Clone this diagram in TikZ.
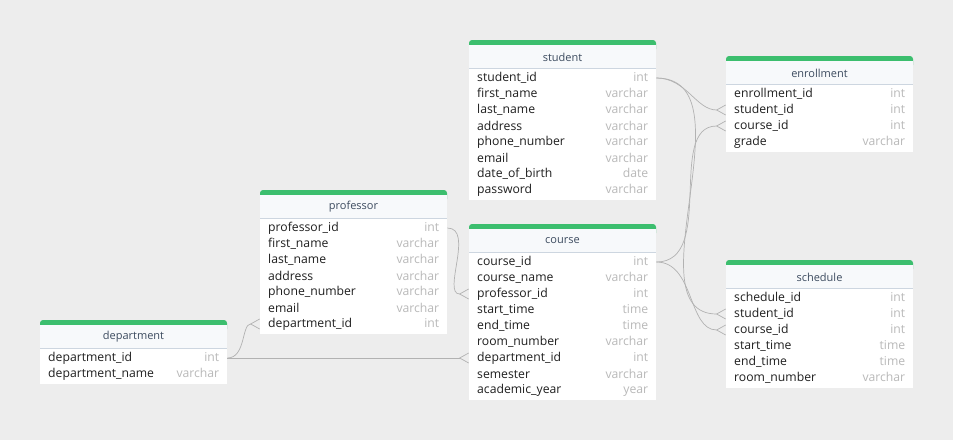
\documentclass[tikz,border=0pt]{standalone}
\usepackage{fontspec}
\setmainfont{Open Sans}
\usepackage{xcolor}
\usepackage{tikz}
\usetikzlibrary{arrows.meta}

\definecolor{bgcol}{RGB}{237,237,237}
\definecolor{barcol}{RGB}{60,190,110}
\definecolor{headcol}{RGB}{247,249,251}
\definecolor{sepcol}{RGB}{205,214,224}
\definecolor{titlecol}{RGB}{60,75,95}
\definecolor{typecol}{RGB}{185,185,185}
\definecolor{relcol}{RGB}{178,178,178}

\begin{document}
\catcode`\_=12
\begin{tikzpicture}[
    x=1pt, y=-1pt,
    bar/.style={fill=barcol, rounded corners=3pt},
    head/.style={fill=headcol},
    sep/.style={draw=sepcol, line width=0.8pt},
    title/.style={font=\fontsize{11}{13}\selectfont, text=titlecol, inner sep=0pt},
    fld/.style={anchor=west, text width=171pt, inner xsep=8pt, inner ysep=0pt,
        minimum height=16pt, align=left, font=\fontsize{12.2}{14}\selectfont, text=black!88},
    rel/.style={draw=relcol, line width=0.7pt},
    crowfoot/.style={-{Straight Barb[reversed, length=9pt, width=10pt]}}]

    \useasboundingbox[fill=bgcol] (0,0) rectangle (953,440);

    % student
    \begin{scope}[shift={(469,40)}]
    \fill[bar] (0,0) rectangle (187,12);
    \fill[head] (0,5) rectangle (187,28);
    \fill[white] (0,28) rectangle (187,159.5);
    \draw[sep] (0,28) -- (187,28);
    \node[title] (student) at (93.5,17) {student};
    \foreach \f/\t [count=\i] in {student_id/int, first_name/varchar, last_name/varchar,
        address/varchar, phone_number/varchar, email/varchar, date_of_birth/date, password/varchar}
        \node[fld] (student-\f) at (0,22+16*\i) {\f\hfill\textcolor{typecol}{\t}};
    \end{scope}

    % enrollment
    \begin{scope}[shift={(726,56)}]
    \fill[bar] (0,0) rectangle (187,12);
    \fill[head] (0,5) rectangle (187,28);
    \fill[white] (0,28) rectangle (187,95.5);
    \draw[sep] (0,28) -- (187,28);
    \node[title] (enrollment) at (93.5,17) {enrollment};
    \foreach \f/\t [count=\i] in {enrollment_id/int, student_id/int, course_id/int, grade/varchar}
        \node[fld] (enrollment-\f) at (0,22+16*\i) {\f\hfill\textcolor{typecol}{\t}};
    \end{scope}

    % professor
    \begin{scope}[shift={(260,190)}]
    \fill[bar] (0,0) rectangle (187,12);
    \fill[head] (0,5) rectangle (187,28);
    \fill[white] (0,28) rectangle (187,143.5);
    \draw[sep] (0,28) -- (187,28);
    \node[title] (professor) at (93.5,17) {professor};
    \foreach \f/\t [count=\i] in {professor_id/int, first_name/varchar, last_name/varchar,
        address/varchar, phone_number/varchar, email/varchar, department_id/int}
        \node[fld] (professor-\f) at (0,22+16*\i) {\f\hfill\textcolor{typecol}{\t}};
    \end{scope}

    % course
    \begin{scope}[shift={(469,224)}]
    \fill[bar] (0,0) rectangle (187,12);
    \fill[head] (0,5) rectangle (187,28);
    \fill[white] (0,28) rectangle (187,175.5);
    \draw[sep] (0,28) -- (187,28);
    \node[title] (course) at (93.5,17) {course};
    \foreach \f/\t [count=\i] in {course_id/int, course_name/varchar, professor_id/int,
        start_time/time, end_time/time, room_number/varchar, department_id/int,
        semester/varchar, academic_year/year}
        \node[fld] (course-\f) at (0,22+16*\i) {\f\hfill\textcolor{typecol}{\t}};
    \end{scope}

    % schedule
    \begin{scope}[shift={(726,260)}]
    \fill[bar] (0,0) rectangle (187,12);
    \fill[head] (0,5) rectangle (187,28);
    \fill[white] (0,28) rectangle (187,127.5);
    \draw[sep] (0,28) -- (187,28);
    \node[title] (schedule) at (93.5,17) {schedule};
    \foreach \f/\t [count=\i] in {schedule_id/int, student_id/int, course_id/int,
        start_time/time, end_time/time, room_number/varchar}
        \node[fld] (schedule-\f) at (0,22+16*\i) {\f\hfill\textcolor{typecol}{\t}};
    \end{scope}

    % department
    \begin{scope}[shift={(40,320)}]
    \fill[bar] (0,0) rectangle (187,12);
    \fill[head] (0,5) rectangle (187,28);
    \fill[white] (0,28) rectangle (187,63.5);
    \draw[sep] (0,28) -- (187,28);
    \node[title] (department) at (93.5,17) {department};
    \foreach \f/\t [count=\i] in {department_id/int, department_name/varchar}
        \node[fld] (department-\f) at (0,22+16*\i) {\f\hfill\textcolor{typecol}{\t}};
    \end{scope}

    % relations
    \draw[rel, crowfoot] (student-student_id.east) to[out=0, in=180] (enrollment-student_id.west);
    \draw[rel, crowfoot] (student-student_id.east) to[out=0, in=180] (schedule-student_id.west);
    \draw[rel, crowfoot] (course-course_id.east) to[out=0, in=180] (enrollment-course_id.west);
    \draw[rel, crowfoot] (course-course_id.east) to[out=0, in=180] (schedule-course_id.west);
    \draw[rel, crowfoot] (professor-professor_id.east) to[out=0, in=180] (course-professor_id.west);
    \draw[rel, crowfoot] (department-department_id.east) to[out=0, in=180] (professor-department_id.west);
    \draw[rel, crowfoot] (department-department_id.east) -- (course-department_id.west);
\end{tikzpicture}
\end{document}
